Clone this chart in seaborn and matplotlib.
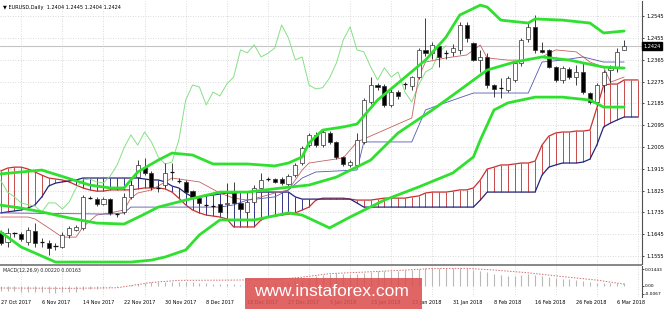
import matplotlib
matplotlib.use("Agg")
import matplotlib.pyplot as plt
from matplotlib.patches import Rectangle
import seaborn as sns
import numpy as np

sns.set_theme(style="white")
plt.rcParams['font.family'] = ['DejaVu Sans']

# ---------------- data ----------------
tick_labels = ["27 Oct 2017", "6 Nov 2017", "14 Nov 2017", "22 Nov 2017", "30 Nov 2017",
               "8 Dec 2017", "18 Dec 2017", "27 Dec 2017", "5 Jan 2018", "15 Jan 2018",
               "23 Jan 2018", "31 Jan 2018", "8 Feb 2018", "16 Feb 2018", "26 Feb 2018",
               "6 Mar 2018"]
tick_bars = [0, 6, 12, 18, 24, 30, 36, 42, 48, 54, 60, 66, 72, 78, 84, 90]

opens = [1.1654, 1.1613, 1.1650, 1.1646, 1.1613, 1.1658, 1.1613, 1.1609, 1.1596, 1.1592,
         1.1642, 1.1662, 1.1671, 1.1794, 1.1790, 1.1770, 1.1790, 1.1727, 1.1737, 1.1798,
         1.1881, 1.1923, 1.1898, 1.1838, 1.1848, 1.1902, 1.1865, 1.1861, 1.1823, 1.1795,
         1.1765, 1.1763, 1.1770, 1.1770, 1.1815, 1.1774, 1.1737, 1.1778, 1.1836, 1.1871,
         1.1873, 1.1873, 1.1852, 1.1890, 1.1939, 1.2013, 1.2055, 1.2013, 1.2063, 1.2026,
         1.1964, 1.1931, 1.1931, 1.2026, 1.2191, 1.2261, 1.2257, 1.2179, 1.2232, 1.2263,
         1.2257, 1.2294, 1.2406, 1.2394, 1.2422, 1.2394, 1.2398, 1.2406, 1.2509, 1.2435,
         1.2365, 1.2377, 1.2261, 1.2249, 1.2241, 1.2282, 1.2352, 1.2451, 1.2501, 1.2406,
         1.2406, 1.2336, 1.2282, 1.2328, 1.2294, 1.2315, 1.2228, 1.2191, 1.2261, 1.2324,
         1.2332, 1.2404]
highs = [1.1662, 1.1671, 1.1654, 1.1654, 1.1675, 1.1691, 1.1629, 1.1621, 1.1609, 1.1654,
         1.1679, 1.1683, 1.1807, 1.1803, 1.1799, 1.1799, 1.1794, 1.1733, 1.1815, 1.1870,
         1.1951, 1.1960, 1.1907, 1.1856, 1.1939, 1.1939, 1.1877, 1.1869, 1.1828, 1.1803,
         1.1774, 1.1770, 1.1774, 1.1857, 1.1861, 1.1778, 1.1782, 1.1848, 1.1898, 1.1882,
         1.1877, 1.1880, 1.1894, 1.1940, 1.2010, 1.2063, 1.2066, 1.2075, 1.2071, 1.2030,
         1.1968, 1.1951, 1.2063, 1.2207, 1.2294, 1.2270, 1.2265, 1.2245, 1.2240, 1.2275,
         1.2300, 1.2415, 1.2538, 1.2440, 1.2435, 1.2406, 1.2430, 1.2520, 1.2520, 1.2440,
         1.2406, 1.2394, 1.2265, 1.2290, 1.2298, 1.2360, 1.2455, 1.2517, 1.2550, 1.2439,
         1.2410, 1.2340, 1.2340, 1.2336, 1.2344, 1.2352, 1.2232, 1.2270, 1.2324, 1.2344,
         1.2414, 1.2445]
lows = [1.1600, 1.1592, 1.1634, 1.1617, 1.1600, 1.1592, 1.1592, 1.1559, 1.1580, 1.1588,
        1.1629, 1.1658, 1.1662, 1.1790, 1.1761, 1.1765, 1.1724, 1.1716, 1.1730, 1.1790,
        1.1869, 1.1890, 1.1828, 1.1820, 1.1840, 1.1869, 1.1857, 1.1815, 1.1790, 1.1765,
        1.1757, 1.1755, 1.1733, 1.1733, 1.1770, 1.1740, 1.1729, 1.1770, 1.1828, 1.1865,
        1.1857, 1.1850, 1.1846, 1.1882, 1.1931, 1.2005, 1.2005, 1.2005, 1.2018, 1.1956,
        1.1927, 1.1923, 1.1927, 1.2018, 1.2183, 1.2240, 1.2170, 1.2170, 1.2203, 1.2245,
        1.2240, 1.2286, 1.2380, 1.2370, 1.2336, 1.2370, 1.2380, 1.2390, 1.2440, 1.2360,
        1.2315, 1.2249, 1.2212, 1.2208, 1.2232, 1.2274, 1.2340, 1.2440, 1.2394, 1.2394,
        1.2330, 1.2274, 1.2270, 1.2286, 1.2261, 1.2224, 1.2183, 1.2174, 1.2232, 1.2270,
        1.2315, 1.2404]
closes = [1.1609, 1.1650, 1.1648, 1.1625, 1.1662, 1.1609, 1.1611, 1.1588, 1.1598, 1.1642,
          1.1671, 1.1675, 1.1799, 1.1797, 1.1770, 1.1790, 1.1733, 1.1730, 1.1798, 1.1848,
          1.1931, 1.1898, 1.1840, 1.1836, 1.1898, 1.1898, 1.1867, 1.1819, 1.1799, 1.1774,
          1.1767, 1.1761, 1.1737, 1.1775, 1.1774, 1.1749, 1.1778, 1.1836, 1.1869, 1.1873,
          1.1861, 1.1857, 1.1886, 1.1931, 1.2001, 1.2055, 1.2013, 1.2067, 1.2026, 1.1964,
          1.1935, 1.1943, 1.2034, 1.2199, 1.2261, 1.2253, 1.2179, 1.2232, 1.2216, 1.2265,
          1.2294, 1.2406, 1.2394, 1.2427, 1.2377, 1.2392, 1.2414, 1.2509, 1.2455, 1.2365,
          1.2377, 1.2261, 1.2245, 1.2250, 1.2290, 1.2352, 1.2447, 1.2501, 1.2406, 1.2398,
          1.2336, 1.2282, 1.2332, 1.2294, 1.2315, 1.2232, 1.2191, 1.2261, 1.2315, 1.2332,
          1.2398, 1.2424]

# Bollinger bands (read at bar positions)
bb_up_bar = [0, 6, 13, 16, 18, 20, 23, 25, 28, 31, 36, 40, 42, 44, 45, 47, 50, 52, 55, 58,
             62, 65, 67, 70, 71, 73, 77, 78, 82, 86, 88, 91]
bb_up = [1.1894, 1.1910, 1.1848, 1.1836, 1.1836, 1.1902, 1.1951, 1.1980, 1.1972, 1.1935,
         1.1935, 1.1927, 1.1939, 1.1964, 1.2022, 1.2075, 1.2088, 1.2100, 1.2199, 1.2269,
         1.2364, 1.2459, 1.2550, 1.2591, 1.2583, 1.2529, 1.2517, 1.2534, 1.2529, 1.2517,
         1.2476, 1.2484]
bb_mid_bar = [0, 3, 6, 10, 14, 18, 21, 23, 27, 32, 36, 41, 45, 49, 54, 58, 63, 67, 71, 75,
              79, 83, 88, 91]
bb_mid = [1.1765, 1.1753, 1.1737, 1.1712, 1.1691, 1.1687, 1.1728, 1.1757, 1.1786, 1.1819,
          1.1819, 1.1836, 1.1848, 1.1881, 1.1951, 1.2063, 1.2158, 1.2240, 1.2323, 1.2356,
          1.2377, 1.2364, 1.2335, 1.2331]
bb_low_bar = [0, 3, 6, 8, 14, 19, 22, 24, 27, 29, 32, 37, 42, 44, 48, 51, 56, 61, 66, 69,
              70, 72, 74, 78, 82, 86, 88, 91]
bb_low = [1.1654, 1.1592, 1.1555, 1.1530, 1.1530, 1.1530, 1.1538, 1.1551, 1.1580, 1.1642,
          1.1704, 1.1704, 1.1733, 1.1724, 1.1671, 1.1716, 1.1786, 1.1840, 1.1898, 1.1964,
          1.2034, 1.2158, 1.2187, 1.2211, 1.2211, 1.2199, 1.2170, 1.2170]

# Ichimoku lines
tenkan_bar = [0, 4, 5, 7, 9, 11, 12, 14, 16, 18, 19, 20, 22, 25, 29, 32, 34, 36, 38, 40,
              42, 44, 45, 50, 52, 55, 60, 61, 62, 65, 68, 70, 71, 74, 77, 79, 81, 84, 86,
              88, 89, 91]
tenkan = [1.1716, 1.1716, 1.1708, 1.1671, 1.1633, 1.1633, 1.1675, 1.1724, 1.1733, 1.1745,
          1.1794, 1.1815, 1.1828, 1.1877, 1.1861, 1.1815, 1.1794, 1.1786, 1.1799, 1.1815,
          1.1828, 1.1910, 1.1939, 1.1960, 1.2026, 1.2063, 1.2125, 1.2294, 1.2356, 1.2373,
          1.2385, 1.2426, 1.2373, 1.2364, 1.2364, 1.2377, 1.2406, 1.2398, 1.2356, 1.2335,
          1.2273, 1.2294]
kijun_bar = [0, 16, 18, 19, 32, 34, 36, 40, 42, 44, 46, 52, 53, 60, 62, 64, 69, 77, 79, 82,
             85, 88, 91]
kijun = [1.1733, 1.1728, 1.1733, 1.1757, 1.1757, 1.1766, 1.1786, 1.1799, 1.1828, 1.1877,
         1.1902, 1.1910, 1.2026, 1.2026, 1.2158, 1.2179, 1.2228, 1.2228, 1.2356, 1.2364,
         1.2377, 1.2356, 1.2356]
span_a = [1.1906, 1.1918, 1.1922, 1.1922, 1.1914, 1.1902, 1.1889, 1.1877, 1.1873, 1.1869,
          1.1861, 1.1848, 1.1836, 1.1828, 1.1823, 1.1823, 1.1828, 1.1828, 1.1828, 1.1828,
          1.1832, 1.1836, 1.1836, 1.1836, 1.1832, 1.1819, 1.1794, 1.1766, 1.1745, 1.1733,
          1.1724, 1.1720, 1.1716, 1.1708, 1.1675, 1.1675, 1.1675, 1.1675, 1.1704, 1.1716,
          1.1720, 1.1724, 1.1728, 1.1733, 1.1745, 1.1757, 1.1786, 1.1794, 1.1794, 1.1794,
          1.1794, 1.1790, 1.1786, 1.1786, 1.1786, 1.1790, 1.1794, 1.1794, 1.1794, 1.1794,
          1.1799, 1.1803, 1.1815, 1.1819, 1.1819, 1.1819, 1.1823, 1.1828, 1.1828, 1.1836,
          1.1869, 1.1914, 1.1922, 1.1931, 1.1931, 1.1935, 1.1939, 1.1939, 1.1947, 1.2013,
          1.2050, 1.2063, 1.2067, 1.2067, 1.2071, 1.2071, 1.2075, 1.2166, 1.2261, 1.2265,
          1.2265, 1.2282, 1.2282, 1.2282]
span_b = [1.1733, 1.1737, 1.1741, 1.1745, 1.1753, 1.1766, 1.1799, 1.1844, 1.1856, 1.1861,
          1.1865, 1.1869, 1.1877, 1.1877, 1.1877, 1.1877, 1.1877, 1.1877, 1.1877, 1.1877,
          1.1877, 1.1873, 1.1869, 1.1869, 1.1861, 1.1844, 1.1836, 1.1815, 1.1799, 1.1799,
          1.1803, 1.1807, 1.1811, 1.1815, 1.1815, 1.1819, 1.1819, 1.1819, 1.1819, 1.1819,
          1.1819, 1.1819, 1.1819, 1.1799, 1.1790, 1.1790, 1.1790, 1.1790, 1.1790, 1.1790,
          1.1790, 1.1790, 1.1774, 1.1757, 1.1757, 1.1757, 1.1757, 1.1757, 1.1757, 1.1757,
          1.1757, 1.1757, 1.1757, 1.1757, 1.1757, 1.1757, 1.1757, 1.1757, 1.1757, 1.1757,
          1.1786, 1.1819, 1.1819, 1.1819, 1.1819, 1.1819, 1.1819, 1.1819, 1.1819, 1.1889,
          1.1922, 1.1931, 1.1939, 1.1939, 1.1939, 1.1943, 1.1955, 1.2013, 1.2088, 1.2104,
          1.2117, 1.2129, 1.2129, 1.2129]

# MACD (12,26,9)
macd_main = [-0.0040, -0.0043, -0.0046, -0.0049, -0.0050, -0.0052, -0.0054, -0.0056, -0.0057, -0.0055,
             -0.0052, -0.0048, -0.0036, -0.0028, -0.0022, -0.0016, -0.0012, -0.0008, -0.0002, 0.0008,
             0.0018, 0.0026, 0.0030, 0.0033, 0.0036, 0.0038, 0.0038, 0.0036, 0.0032, 0.0028,
             0.0024, 0.0020, 0.0016, 0.0014, 0.0013, 0.0011, 0.0011, 0.0014, 0.0019, 0.0023,
             0.0026, 0.0028, 0.0031, 0.0040, 0.0055, 0.0070, 0.0085, 0.0095, 0.0105, 0.0108,
             0.0105, 0.0102, 0.0105, 0.0112, 0.0120, 0.0125, 0.0125, 0.0127, 0.0128, 0.0132,
             0.0138, 0.0146, 0.0152, 0.0155, 0.0154, 0.0152, 0.0150, 0.0152, 0.0150, 0.0140,
             0.0130, 0.0116, 0.0102, 0.0092, 0.0088, 0.0088, 0.0092, 0.0098, 0.0094, 0.0088,
             0.0078, 0.0068, 0.0062, 0.0056, 0.0051, 0.0042, 0.0032, 0.0029, 0.0027, 0.0024,
             0.0024, 0.0022]
signal_bar = [0, 10, 17, 22, 26, 34, 40, 44, 48, 53, 58, 63, 68, 72, 77, 82, 87, 91]
macd_signal = [-0.0017, -0.0020, -0.0015, 0.0030, 0.0048, 0.0050, 0.0055, 0.0075, 0.0105, 0.0118,
               0.0132, 0.0148, 0.0150, 0.0136, 0.0112, 0.0080, 0.0050, 0.0016]
macd_ticks = [0.01443, 0.0, -0.0067]
macd_tick_labels = ["0.01443", "0.00", "-0.0067"]
price_ticks = [1.1555, 1.1645, 1.1735, 1.1825, 1.1915, 1.2005, 1.2095, 1.2185, 1.2275,
               1.2365, 1.2455, 1.2545]
header = "EURUSD,Daily  1.2404 1.2445 1.2404 1.2424"
macd_header = "MACD(12,26,9) 0.00220 0.00163"
last_price = 1.2424
chikou_shift = 26

# ---------------- figure ----------------
W, H = 665, 309
fig = plt.figure(figsize=(W / 100, H / 100), dpi=100)
fig.patch.set_facecolor("white")


def frac(x0, y0, x1, y1):
    return [x0 / W, 1 - y1 / H, (x1 - x0) / W, (y1 - y0) / H]


ax = fig.add_axes(frac(0, 1, 642, 264))
axm = fig.add_axes(frac(0, 266, 642, 297))
XL = (-0.1, 93.6)
grid_kw = dict(color="#cfcfcf", lw=0.6, linestyle=(0, (1, 2)), zorder=0)

for a in (ax, axm):
    a.set_facecolor("white")
    a.set_xlim(*XL)
    for s in ("left", "top", "bottom"):
        a.spines[s].set_visible(False)
    a.spines["right"].set_color("#505050")
    a.spines["right"].set_linewidth(0.8)
    a.yaxis.tick_right()
    a.tick_params(axis="y", labelsize=3.7, length=1.5, width=0.5, pad=1.5, colors="black")
    for gx in range(3, 94, 6):
        a.axvline(gx, **grid_kw)

ax.set_ylim(1.1522, 1.2608)
ax.set_yticks(price_ticks)
ax.set_yticklabels([f"{t:.4f}" for t in price_ticks])
ax.set_xticks([])
for p in price_ticks:
    ax.axhline(p, **grid_kw)
ax.axhline(last_price, color="#c4c4c4", lw=0.8, zorder=0.5)

# cloud hatching and spans
bars_c = np.arange(len(span_a))
for i in bars_c:
    col = "#c84a4a" if span_a[i] >= span_b[i] else "#34348a"
    ax.vlines(i, min(span_a[i], span_b[i]), max(span_a[i], span_b[i]), color=col, lw=0.7, zorder=1)
sns.lineplot(x=bars_c, y=span_a, ax=ax, color="#c83030", lw=0.9, legend=False, zorder=2)
sns.lineplot(x=bars_c, y=span_b, ax=ax, color="#24247a", lw=0.9, legend=False, zorder=2)

# ichimoku lines
chikou_x = np.arange(len(closes))[chikou_shift:] - chikou_shift
sns.lineplot(x=chikou_x, y=closes[chikou_shift:], ax=ax, color="#86e086", lw=0.7, legend=False,
             zorder=3, sort=False)
sns.lineplot(x=tenkan_bar, y=tenkan, ax=ax, color="#c86060", lw=0.6, legend=False, zorder=3)
sns.lineplot(x=kijun_bar, y=kijun, ax=ax, color="#5656b4", lw=0.6, legend=False, zorder=3)

# candles
n = len(closes)
idx = np.arange(n)
ax.vlines(idx, lows, highs, color="#202020", lw=0.6, zorder=4)
for i in range(n):
    o, c = opens[i], closes[i]
    lo, hi = min(o, c), max(o, c)
    if hi - lo < 0.0004:
        ax.hlines((o + c) / 2, i - 0.32, i + 0.32, color="#101010", lw=0.9, zorder=5)
    else:
        fc = "white" if c > o else "black"
        ax.add_patch(Rectangle((i - 0.3, lo), 0.6, hi - lo, facecolor=fc, edgecolor="#303030",
                               lw=0.5, zorder=5))

# bollinger bands
green = "#2fe02f"
sns.lineplot(x=bb_up_bar, y=bb_up, ax=ax, color=green, lw=2.0, legend=False, zorder=6)
sns.lineplot(x=bb_mid_bar, y=bb_mid, ax=ax, color=green, lw=2.0, legend=False, zorder=6)
sns.lineplot(x=bb_low_bar, y=bb_low, ax=ax, color=green, lw=2.0, legend=False, zorder=6)
ax.set_xlabel("")
ax.set_ylabel("")
ax.set_xlim(*XL)
ax.set_ylim(1.1522, 1.2608)

ax.text(0.004, 0.985, "\u25BC " + header, transform=ax.transAxes, fontsize=3.6, va="top",
        ha="left", color="black")
# current price tag
fig.text(643.5 / W, 1 - 46 / H, f"{last_price:.4f}", fontsize=3.6, color="white", va="center",
         ha="left", bbox=dict(boxstyle="square,pad=0.25", fc="black", ec="black"))

# MACD panel
axm.set_ylim(-0.00934, 0.01698)
axm.vlines(idx, 0, macd_main, color="#b8b8b8", lw=0.8, zorder=2)
sns.lineplot(x=signal_bar, y=macd_signal, ax=axm, color="#d07070", lw=0.7, linestyle=(0, (1.5, 1.5)),
             legend=False, zorder=3)
axm.set_yticks(macd_ticks)
axm.set_yticklabels(macd_tick_labels)
axm.tick_params(axis="y", labelsize=3.2, length=1.2, pad=1.0)
axm.set_xlim(*XL)
axm.set_xticks(tick_bars)
axm.set_xticklabels(tick_labels, ha="left")
axm.tick_params(axis="x", labelsize=3.5, length=1.5, width=0.5, pad=1, colors="black")
axm.set_xlabel("")
axm.set_ylabel("")
axm.text(0.004, 0.92, macd_header, transform=axm.transAxes, fontsize=3.4, va="top", ha="left")

# separator between panels
fig.add_artist(Rectangle((0, 1 - 266 / H), 642 / W, 2 / H, transform=fig.transFigure,
                         facecolor="#8a8a8a", edgecolor="none"))

# watermark
fig.add_artist(Rectangle((245 / W, 0), 177 / W, 31 / H, transform=fig.transFigure,
                         facecolor="#dc5050", edgecolor="none", alpha=0.88, zorder=10))
fig.text(331 / W, 1 - 292 / H, "www.instaforex.com", fontsize=12.5, color="white",
         family=["Liberation Sans", "DejaVu Sans"], ha="center", va="center", zorder=11)

fig.savefig("out.png", dpi=100, facecolor="white")
